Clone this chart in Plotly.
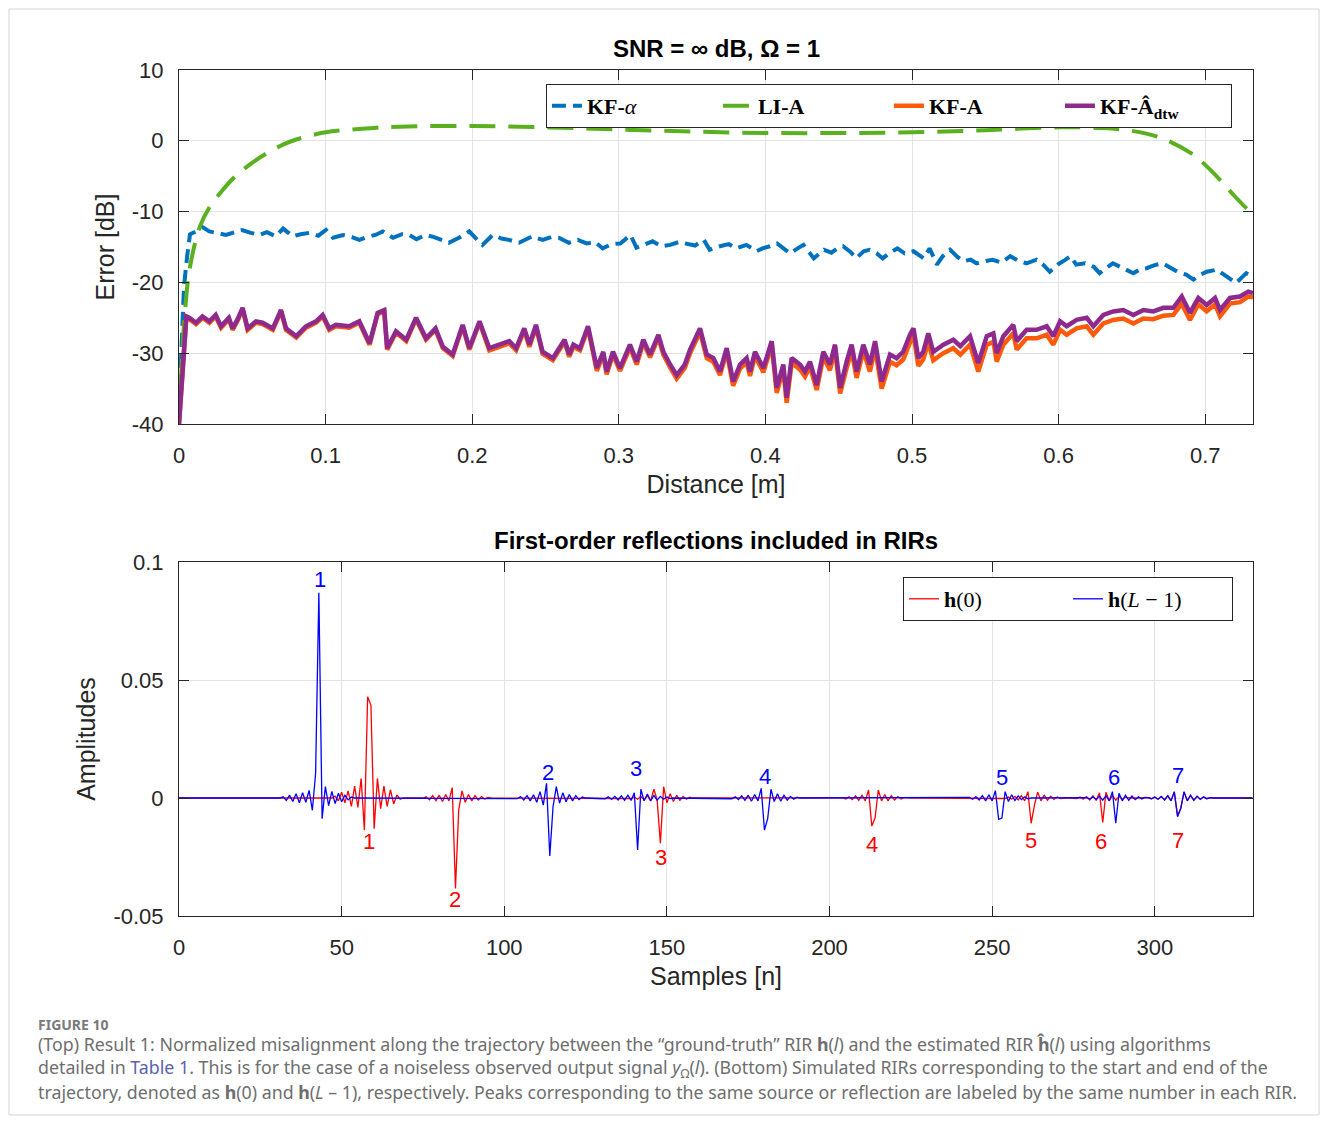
import numpy as np
import plotly.graph_objects as go

# ---------------- top panel: misalignment along trajectory ----------------
dist_alpha = [
    0.0, 0.001, 0.002, 0.0034, 0.0055, 0.0075, 0.0116, 0.016, 0.0207, 0.026,
    0.032, 0.038, 0.043, 0.049, 0.055, 0.060, 0.066, 0.071, 0.0776, 0.083,
    0.089, 0.095, 0.1003, 0.105, 0.112, 0.118, 0.123, 0.128, 0.134, 0.139,
    0.146, 0.152, 0.157, 0.162, 0.168, 0.174, 0.180, 0.184, 0.191, 0.198,
    0.203, 0.207, 0.214, 0.220, 0.225, 0.232, 0.241, 0.248, 0.254, 0.259,
    0.266, 0.272, 0.278, 0.284, 0.289, 0.295, 0.301, 0.308, 0.312, 0.318,
    0.323, 0.329, 0.335, 0.341, 0.346, 0.352, 0.358, 0.362, 0.369, 0.375,
    0.380, 0.387, 0.394, 0.398, 0.403, 0.408, 0.413, 0.417, 0.422, 0.426,
    0.433, 0.440, 0.445, 0.449, 0.453, 0.458, 0.462, 0.467, 0.471, 0.476,
    0.480, 0.485, 0.490, 0.495, 0.501, 0.508, 0.512, 0.517, 0.521, 0.526,
    0.531, 0.535, 0.540, 0.544, 0.550, 0.555, 0.561, 0.567, 0.572, 0.578,
    0.585, 0.590, 0.594, 0.600, 0.604, 0.608, 0.612, 0.618, 0.624, 0.628,
    0.633, 0.637, 0.642, 0.646, 0.651, 0.656, 0.660, 0.665, 0.671, 0.676,
    0.681, 0.687, 0.692, 0.697, 0.701, 0.708, 0.715, 0.721, 0.725, 0.728,
    0.7326,
]
err_kf_alpha = [
    -38.0, -33.0, -27.0, -20.6, -16.4, -13.2, -12.8, -12.2, -12.8, -13.0,
    -13.3, -12.9, -12.6, -13.0, -13.3, -12.9, -13.5, -12.4, -13.5, -13.2,
    -13.0, -13.4, -12.6, -13.7, -13.3, -13.6, -14.0, -13.6, -13.3, -12.8,
    -13.7, -13.2, -13.3, -13.9, -13.3, -13.6, -14.0, -14.4, -13.7, -12.8,
    -13.9, -14.7, -13.3, -13.8, -14.0, -14.4, -13.5, -14.0, -13.6, -13.7,
    -14.4, -14.0, -14.5, -14.3, -15.2, -14.6, -14.5, -13.3, -15.1, -14.6,
    -14.2, -14.9, -14.7, -14.3, -14.5, -14.8, -14.0, -15.4, -14.9, -14.6,
    -15.2, -14.7, -15.6, -15.2, -14.9, -14.5, -15.3, -15.9, -15.2, -14.7,
    -16.6, -15.4, -15.8, -15.2, -14.9, -15.7, -16.6, -15.6, -15.4, -15.9,
    -16.6, -15.8, -15.2, -15.9, -15.6, -16.6, -15.2, -17.5, -16.3, -15.4,
    -16.4, -17.0, -16.8, -17.3, -17.0, -16.8, -17.2, -16.3, -16.9, -17.3,
    -16.8, -17.6, -18.5, -17.4, -16.9, -16.3, -17.5, -17.3, -17.8, -18.7,
    -17.9, -17.3, -17.8, -18.2, -18.7, -18.1, -18.0, -17.6, -17.3, -17.9,
    -18.5, -18.9, -19.6, -18.9, -18.5, -18.2, -19.2, -20.1, -19.3, -18.7,
    -19.2,
]

dist_li = [0.0, 0.0015, 0.004, 0.0075, 0.0143, 0.021, 0.028, 0.038, 0.048, 0.062,
           0.076, 0.1, 0.125, 0.15, 0.2, 0.25, 0.3, 0.35, 0.4, 0.45,
           0.5, 0.55, 0.6, 0.63, 0.65, 0.67, 0.69, 0.70, 0.71, 0.72, 0.7326]
err_li_a = [-40.0, -33.0, -24.3, -17.8, -12.1, -9.3, -7.4, -5.1, -3.4, -1.5,
            -0.1, 1.2, 1.7, 2.0, 2.1, 1.9, 1.6, 1.3, 1.1, 1.1,
            1.2, 1.5, 1.9, 1.8, 1.4, 0.4, -1.7, -3.4, -5.5, -7.8, -10.5]

dist_kf = [
    0.0, 0.002, 0.0035, 0.005, 0.007, 0.0116, 0.016, 0.0207, 0.025, 0.0287,
    0.034, 0.0366, 0.040, 0.0434, 0.0468, 0.0525, 0.057, 0.064, 0.0696, 0.073,
    0.080, 0.0866, 0.0935, 0.098, 0.1025, 0.107, 0.116, 0.123, 0.130, 0.1355,
    0.140, 0.142, 0.148, 0.155, 0.1617, 0.1685, 0.175, 0.180, 0.1867, 0.1935,
    0.198, 0.205, 0.2117, 0.2185, 0.2253, 0.230, 0.2355, 0.239, 0.2435, 0.248,
    0.255, 0.263, 0.2662, 0.269, 0.2735, 0.279, 0.2826, 0.285, 0.2894, 0.2917,
    0.296, 0.3008, 0.3076, 0.3122, 0.3167, 0.3213, 0.327, 0.3304, 0.335, 0.3395,
    0.345, 0.3486, 0.3554, 0.360, 0.3645, 0.369, 0.3736, 0.378, 0.3827, 0.3872,
    0.3895, 0.3929, 0.3986, 0.4043, 0.4077, 0.4122, 0.4145, 0.4179, 0.4236, 0.427,
    0.4304, 0.435, 0.4395, 0.444, 0.4475, 0.451, 0.4554, 0.4588, 0.4622, 0.4668,
    0.4713, 0.4748, 0.4793, 0.485, 0.4895, 0.494, 0.4986, 0.501, 0.5043, 0.5077,
    0.5111, 0.5145, 0.5214, 0.5282, 0.533, 0.5396, 0.5452, 0.551, 0.5555, 0.5578,
    0.5623, 0.5691, 0.5714, 0.5782, 0.585, 0.5919, 0.5964, 0.601, 0.6055, 0.6123,
    0.6192, 0.6237, 0.6305, 0.6373, 0.6441, 0.651, 0.6578, 0.6646, 0.6714, 0.6783,
    0.684, 0.6896, 0.6953, 0.701, 0.7067, 0.7101, 0.7169, 0.7237, 0.7294, 0.7326,
]
err_kf_a = [
    -40.0, -34.5, -28.5, -25.0, -25.2, -25.9, -25.0, -25.7, -24.8, -26.4,
    -25.2, -26.7, -25.4, -23.8, -26.7, -25.7, -25.9, -26.7, -24.1, -26.7,
    -27.8, -26.4, -25.7, -24.8, -26.7, -26.2, -26.4, -25.7, -28.8, -24.5,
    -24.1, -29.5, -27.1, -28.3, -25.2, -28.1, -26.7, -29.3, -30.4, -26.2,
    -29.5, -25.7, -29.6, -29.1, -28.6, -29.6, -26.8, -29.1, -26.3, -30.1,
    -31.0, -28.4, -30.5, -29.1, -29.6, -26.5, -30.1, -32.5, -30.2, -33.0,
    -30.2, -32.5, -29.2, -31.6, -28.5, -30.6, -27.8, -30.2, -32.0, -33.6,
    -32.1, -30.0, -27.0, -30.7, -31.2, -33.1, -29.8, -34.6, -32.2, -31.3,
    -33.2, -30.4, -32.7, -28.9, -35.6, -32.3, -37.0, -31.4, -32.3, -33.3,
    -31.9, -35.2, -30.5, -32.4, -29.6, -35.7, -32.1, -29.7, -33.5, -29.7,
    -32.6, -29.3, -35.0, -31.2, -31.7, -30.9, -28.5, -27.4, -31.8, -30.9,
    -28.4, -31.0, -30.0, -29.3, -30.2, -28.8, -32.6, -28.8, -28.4, -31.2,
    -28.8, -27.2, -29.5, -27.9, -27.9, -27.4, -28.8, -26.7, -27.4, -26.5,
    -26.2, -27.4, -25.8, -25.3, -25.1, -25.8, -25.1, -25.2, -24.7, -24.6,
    -23.0, -25.3, -23.1, -24.1, -23.1, -24.8, -23.0, -22.8, -22.0, -22.1,
]
err_kf_a_dtw = [
    -40.0, -34.0, -28.0, -24.8, -25.0, -25.7, -24.8, -25.5, -24.6, -26.2,
    -25.0, -26.5, -25.2, -23.6, -26.5, -25.5, -25.7, -26.5, -23.9, -26.5,
    -27.6, -26.2, -25.5, -24.6, -26.5, -26.0, -26.2, -25.5, -28.6, -24.3,
    -23.9, -29.3, -26.9, -28.1, -25.0, -27.9, -26.5, -29.1, -30.2, -26.0,
    -29.3, -25.5, -29.3, -28.8, -28.3, -29.3, -26.5, -28.8, -26.0, -29.8,
    -30.7, -28.1, -30.2, -28.8, -29.3, -26.2, -29.8, -32.1, -29.8, -32.6,
    -29.8, -32.1, -28.8, -31.2, -28.1, -30.2, -27.4, -29.8, -31.6, -33.1,
    -31.6, -29.5, -26.5, -30.2, -30.7, -32.6, -29.3, -34.0, -31.6, -30.7,
    -32.6, -29.8, -32.1, -28.3, -34.9, -31.6, -36.3, -30.7, -31.6, -32.6,
    -31.2, -34.5, -29.8, -31.6, -28.8, -34.9, -31.2, -28.8, -32.6, -28.8,
    -31.6, -28.3, -34.0, -30.2, -30.7, -29.8, -27.4, -26.5, -30.7, -29.8,
    -27.2, -29.8, -28.8, -28.1, -29.0, -27.6, -31.4, -27.6, -27.2, -30.0,
    -27.6, -26.0, -28.3, -26.7, -26.7, -26.2, -27.6, -25.5, -26.2, -25.3,
    -25.0, -26.2, -24.6, -24.1, -23.9, -24.6, -23.9, -24.1, -23.6, -23.6,
    -22.0, -24.3, -22.2, -23.2, -22.2, -23.9, -22.2, -22.0, -21.3, -21.5,
]

# ---------------- bottom panel: RIR reflections ----------------
n_samples = 331
# (first sample index, amplitudes) for each reflection
h0_pulses = [
    (48, [0.0008, -0.0012, 0.0025, -0.002, 0.003, -0.0035, 0.005, -0.004, 0.0083, -0.0136,
          0.0429, 0.0394, -0.013, 0.0083, -0.0045, 0.005, -0.0035, 0.0035, -0.0025, 0.0013, -0.0005]),
    (76, [0.0005, -0.0008, 0.001, -0.0012, 0.0012, -0.0015, 0.0015, -0.0012, 0.0044, -0.0383,
          -0.005, 0.003, -0.0018, 0.0015, -0.0012, 0.001, -0.0008, 0.0006, -0.0004, 0.0002]),
    (139, [-0.0002, 0.0004, -0.0005, 0.0007, -0.0008, 0.001, -0.0012, 0.0037, -0.0008, -0.0192,
           0.0048, -0.002, 0.0018, -0.0015, 0.0012, -0.001, 0.0007, -0.0005, 0.0003]),
    (204, [0.0002, -0.0004, 0.0005, -0.0007, 0.0009, -0.001, 0.0012, -0.0012, 0.0034, -0.0119,
           -0.0085, 0.0034, -0.0012, 0.0015, -0.0012, 0.001, -0.0008, 0.0006, -0.0004, 0.0002]),
    (254, [-0.0002, 0.0004, -0.0005, 0.0007, -0.0008, 0.001, -0.0012, 0.0027, -0.0107, -0.003,
           0.0025, -0.0012, 0.0013, -0.001, 0.0008, -0.0006, 0.0004, -0.0002]),
    (276, [-0.0002, 0.0004, -0.0005, 0.0006, -0.0008, 0.0009, -0.001, 0.0022, -0.0104, 0.0025,
           -0.0012, 0.0011, -0.0009, 0.0007, -0.0005, 0.0003]),
    (298, [0.0002, -0.0003, 0.0004, -0.0005, 0.0006, -0.0008, 0.0009, -0.0011, 0.0025, -0.0075,
           -0.0042, 0.0025, -0.0011, 0.0011, -0.0009, 0.0007, -0.0005, 0.0004, -0.0002]),
]
hL_pulses = [
    (32, [0.0005, -0.001, 0.0012, -0.0015, 0.0018, -0.002, 0.0022, -0.0018, 0.0032, -0.0052,
          0.0105, 0.087, -0.0088, 0.0048, -0.0032, 0.0028, -0.0024, 0.002, -0.0016, 0.0012,
          -0.0008, 0.0004]),
    (104, [-0.0003, 0.0006, -0.0008, 0.001, -0.0012, 0.0014, -0.0018, 0.0027, -0.003, 0.0062,
           -0.0246, -0.0037, 0.0048, -0.0022, 0.0022, -0.0016, 0.0015, -0.0012, 0.001, -0.0007, 0.0004]),
    (131, [-0.0003, 0.0005, -0.0006, 0.0007, -0.0008, 0.0009, -0.001, 0.0012, -0.001, 0.0022,
           -0.022, 0.0037, -0.0012, 0.0017, -0.0012, 0.0011, -0.0009, 0.0007, -0.0005, 0.0004, -0.0002]),
    (170, [-0.0003, 0.0005, -0.0007, 0.0009, -0.001, 0.0012, -0.0014, 0.0015, -0.0012, 0.0041,
           -0.0136, -0.0086, 0.0037, -0.0015, 0.0018, -0.0014, 0.0012, -0.0009, 0.0007, -0.0005, 0.0003]),
    (243, [0.0003, -0.0005, 0.0006, -0.0008, 0.001, -0.0012, 0.0014, -0.0012, 0.0031, -0.009,
           -0.0085, 0.0027, -0.0015, 0.0014, -0.0011, 0.0009, -0.0007, 0.0005, -0.0003]),
    (279, [0.0002, -0.0004, 0.0005, -0.0006, 0.0008, -0.0009, 0.001, -0.0012, 0.0027, -0.0107,
           0.002, -0.0012, 0.0012, -0.001, 0.0008, -0.0007, 0.0005, -0.0004, 0.0003, -0.0002]),
    (298, [0.0002, -0.0003, 0.0004, -0.0005, 0.0007, -0.0008, 0.001, -0.0012, 0.0027, -0.0079,
           -0.0045, 0.0027, -0.0012, 0.0012, -0.001, 0.0008, -0.0006, 0.0005, -0.0003, 0.0002]),
]
# peak labels: (sample, amplitude, text)
h0_labels = [(58.4, -0.0186, "1"), (84.8, -0.0432, "2"), (148.2, -0.025, "3"), (213, -0.0195, "4"),
             (262, -0.0178, "5"), (283.4, -0.0186, "6"), (307.1, -0.0178, "7")]
hL_labels = [(43.3, 0.0924, "1"), (113.4, 0.011, "2"), (140.5, 0.0123, "3"), (180.1, 0.0093, "4"),
             (253, 0.0089, "5"), (287.4, 0.0089, "6"), (307.1, 0.0097, "7")]

top_xticks = [0, 0.1, 0.2, 0.3, 0.4, 0.5, 0.6, 0.7]
top_yticks = [-40, -30, -20, -10, 0, 10]
bot_xticks = [0, 50, 100, 150, 200, 250, 300]
bot_yticks = [-0.05, 0, 0.05, 0.1]
bot_yticktext = ["-0.05", "0", "0.05", "0.1"]


def build_rir(pulses):
    h = np.zeros(n_samples)
    for start, vals in pulses:
        h[start:start + len(vals)] = vals
    return h


h0 = build_rir(h0_pulses)
hL = build_rir(hL_pulses)
samples = np.arange(n_samples)

FONT = "Liberation Sans, Arial, sans-serif"
SERIF = "Liberation Serif, DejaVu Serif, serif"
AX = "#262626"

fig = go.Figure()

fig.add_trace(go.Scatter(x=dist_alpha, y=err_kf_alpha, mode="lines", name="<b>KF-</b><i>α</i>",
                         line=dict(color="#0072BD", width=4, dash="14px,7px"), legend="legend"))
fig.add_trace(go.Scatter(x=dist_li, y=err_li_a, mode="lines", name="<b>LI-A</b>", line_shape="spline",
                         line=dict(color="#5BB01F", width=4, dash="26px,13px"), legend="legend"))
fig.add_trace(go.Scatter(x=dist_kf, y=err_kf_a, mode="lines", name="<b>KF-A</b>",
                         line=dict(color="#FF5A0A", width=4.5), legend="legend"))
fig.add_trace(go.Scatter(x=dist_kf, y=err_kf_a_dtw, mode="lines", name="<b>KF-Â<sub>dtw</sub></b>",
                         line=dict(color="#8E2A8E", width=4.5), legend="legend"))

fig.add_trace(go.Scatter(x=samples, y=h0, mode="lines", name="<b>h</b>(0)", xaxis="x2", yaxis="y2",
                         line=dict(color="#FF0000", width=1.3), legend="legend2"))
fig.add_trace(go.Scatter(x=samples, y=hL, mode="lines", name="<b>h</b>(<i>L</i> − 1)", xaxis="x2", yaxis="y2",
                         line=dict(color="#0000FF", width=1.3), legend="legend2"))

axis_style = dict(showline=True, linecolor=AX, linewidth=1, mirror="ticks", ticks="inside", ticklen=10,
                  tickcolor=AX, showgrid=True, gridcolor="#E3E3E3", gridwidth=1, zeroline=False,
                  tickfont=dict(family=FONT, size=22, color=AX))
title_font = dict(family=FONT, size=25, color=AX)

annotations = [
    dict(text="<b>SNR = ∞ dB, Ω = 1</b>", xref="paper", yref="paper", x=0.5, y=1.026, yanchor="middle",
         showarrow=False, font=dict(family=FONT, size=24, color="black")),
    dict(text="<b>First-order reflections included in RIRs</b>", xref="paper", yref="paper", x=0.5, y=0.4433,
         yanchor="middle", showarrow=False, font=dict(family=FONT, size=24, color="black")),
]
for xs, ys, t in h0_labels:
    annotations.append(dict(text=t, x=xs, y=ys, xref="x2", yref="y2", showarrow=False,
                            font=dict(family=FONT, size=22, color="#FF0000")))
for xs, ys, t in hL_labels:
    annotations.append(dict(text=t, x=xs, y=ys, xref="x2", yref="y2", showarrow=False,
                            font=dict(family=FONT, size=22, color="#0000FF")))

# caption
cap_font = dict(family="Noto Sans, sans-serif", size=17.8, color="#6E6E6E")
caption = [
    ("<b>FIGURE 10</b>", -0.1277, dict(family="Noto Sans, sans-serif", size=14, color="#7A7A7A")),
    ("(Top) Result 1: Normalized misalignment along the trajectory between the “ground-truth” RIR "
     "<b>h</b>(<i>l</i>) and the estimated RIR <b>ĥ</b>(<i>l</i>) using algorithms", -0.1513, cap_font),
    ("detailed in <span style='color:#5A62B0'>Table 1</span>. This is for the case of a noiseless observed "
     "output signal <i>y</i><sub>Ω</sub>(<i>l</i>). (Bottom) Simulated RIRs corresponding to the start and end of the",
     -0.1797, cap_font),
    ("trajectory, denoted as <b>h</b>(0) and <b>h</b>(<i>L</i> – 1), respectively. Peaks corresponding to the same "
     "source or reflection are labeled by the same number in each RIR.", -0.208, cap_font),
]
for text, yy, f in caption:
    annotations.append(dict(text=text, xref="paper", yref="paper", x=-0.1331, y=yy, xanchor="left",
                            yanchor="middle", align="left", showarrow=False, font=f))

fig.update_layout(
    width=1312, height=1108,
    margin=dict(l=171, r=67, t=62, b=200),
    paper_bgcolor="white", plot_bgcolor="white",
    xaxis=dict(domain=[0, 1], anchor="y", range=[0, 0.7326], tickvals=top_xticks,
               ticktext=[f"{v:g}" for v in top_xticks], ticklabelstandoff=12,
               title=dict(text="Distance [m]", font=title_font, standoff=8), **axis_style),
    yaxis=dict(domain=[0.5816, 1], anchor="x", range=[-40, 10], tickvals=top_yticks,
               ticktext=[f"{v:g}" for v in top_yticks], ticklabelstandoff=10,
               title=dict(text="Error [dB]", font=title_font, standoff=10), **axis_style),
    xaxis2=dict(domain=[0, 1], anchor="y2", range=[0, 330.2], tickvals=bot_xticks,
                ticktext=[str(v) for v in bot_xticks], ticklabelstandoff=12,
                title=dict(text="Samples [n]", font=title_font, standoff=8), **axis_style),
    yaxis2=dict(domain=[0, 0.4184], anchor="x2", range=[-0.05, 0.1], tickvals=bot_yticks,
                ticktext=bot_yticktext, ticklabelstandoff=10,
                title=dict(text="Amplitudes", font=title_font, standoff=10), **axis_style),
    legend=dict(orientation="h", x=0.9804, y=0.9835, xanchor="right", yanchor="top",
                bgcolor="white", bordercolor=AX, borderwidth=1,
                font=dict(family=SERIF, size=22, color="black"), entrywidth=126, entrywidthmode="pixels"),
    legend2=dict(orientation="h", x=0.9814, y=0.4007, xanchor="right", yanchor="top",
                 bgcolor="white", bordercolor=AX, borderwidth=1,
                 font=dict(family=SERIF, size=22, color="black"), entrywidth=119, entrywidthmode="pixels"),
    annotations=annotations,
    shapes=[dict(type="rect", xref="paper", yref="paper", x0=-0.1583, x1=1.0615, y0=-0.2352, y1=1.0721,
                 line=dict(color="#D5D5D5", width=1), fillcolor="rgba(0,0,0,0)", layer="below")],
    showlegend=True,
)

fig.write_html("out.html")
